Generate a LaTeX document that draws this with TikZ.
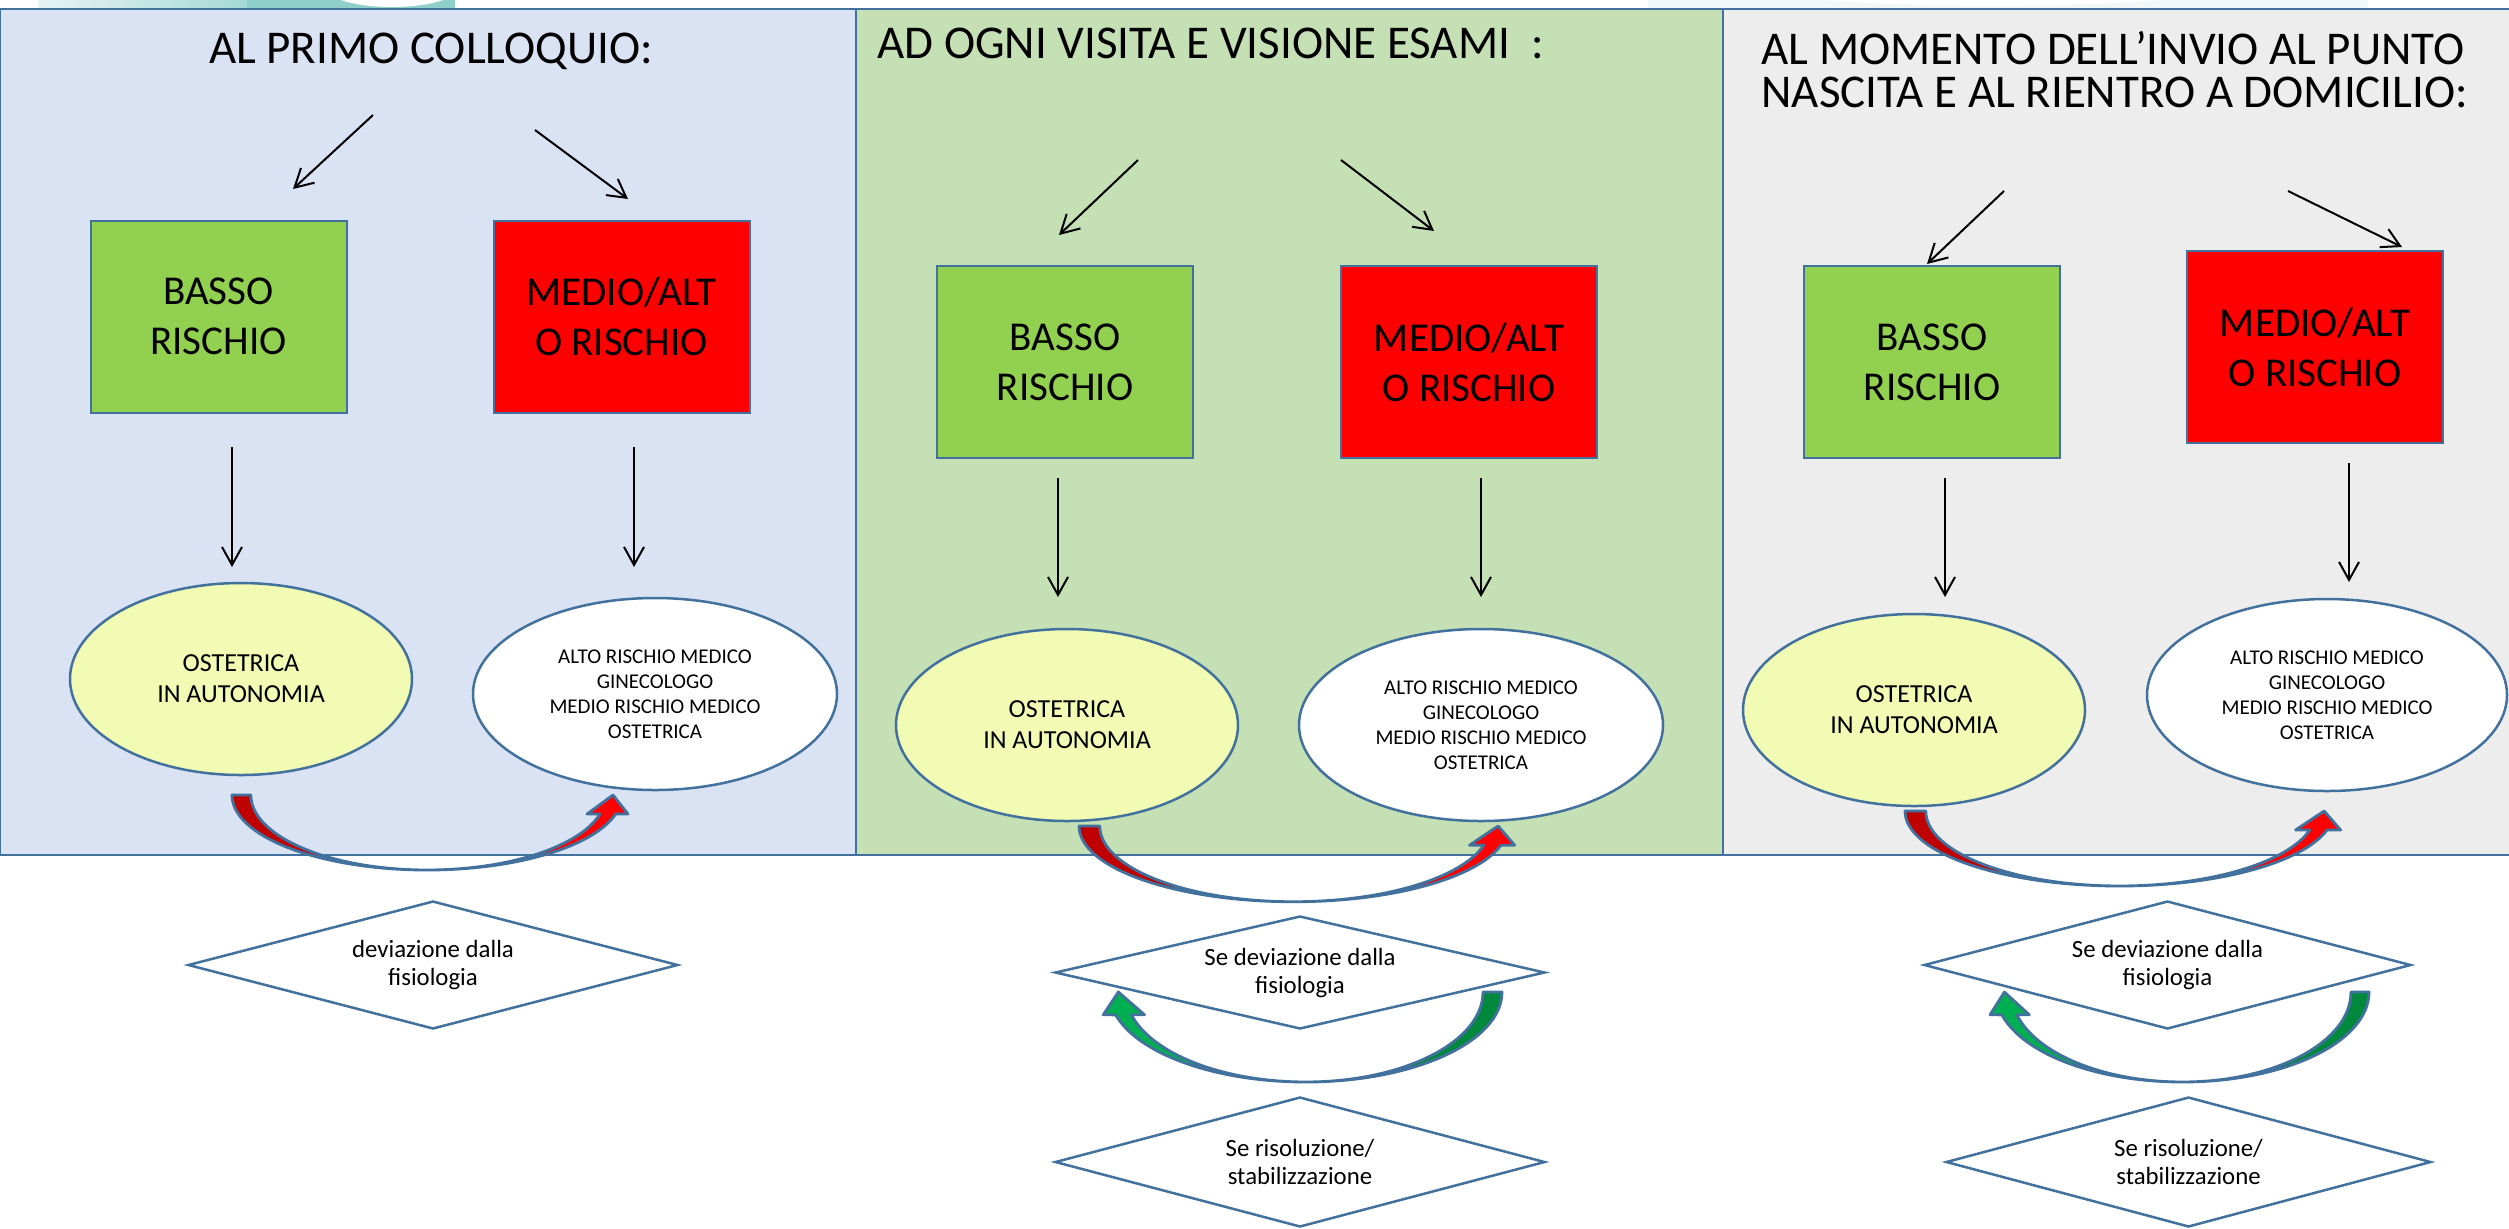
\documentclass[tikz,border=0pt]{standalone}
\usepackage{fontspec}
\setmainfont{Carlito}
\usetikzlibrary{shapes.geometric,arrows.meta}
\definecolor{bord}{HTML}{41719C}
\definecolor{pblue}{HTML}{DAE3F3}
\definecolor{pgreen}{HTML}{C5E0B4}
\definecolor{pgray}{HTML}{EDEDED}
\definecolor{boxgreen}{HTML}{92D050}
\definecolor{boxred}{HTML}{FF0000}
\definecolor{ellyellow}{HTML}{F2FBB4}
\definecolor{redtail}{HTML}{C00000}
\definecolor{redhead}{HTML}{FF0000}
\definecolor{greentail}{HTML}{00893C}
\definecolor{greenhead}{HTML}{00B050}
\definecolor{tealdeco}{HTML}{8FD0CB}
\definecolor{teallight}{HTML}{E6F4F3}
\definecolor{faintdeco}{HTML}{F2F8F8}

\newcommand{\cupath}{(0,0) arc[start angle=180,end angle=14.7,x radius=195,y radius=75] -- (396,19) -- (381,0) -- (355,19) -- (368,19) arc[start angle=14.7,end angle=90,x radius=179,y radius=75] arc[start angle=90,end angle=180,x radius=176,y radius=75] -- cycle}

\newcommand{\cuarrow}[6]{%
\begin{scope}[shift={(#1,#2)},xscale=#3,yscale=#4]
\fill[#6] \cupath;
\begin{scope}
\clip (-30,-20) rectangle (195,120);
\fill[#5] \cupath;
\end{scope}
\draw[bord,line width=1.4pt,line join=round] \cupath;
\end{scope}}

\tikzset{
 ttl/.style={font=\fontsize{23.5}{21.5}\selectfont, inner sep=0pt},
 riskbox/.style={draw=bord, line width=1pt, minimum width=128pt, minimum height=96pt, align=center, font=\fontsize{20.5}{25}\selectfont, inner sep=0pt},
 lowbox/.style={riskbox, fill=boxgreen},
 highbox/.style={riskbox, fill=boxred},
 ellL/.style={ellipse, draw=bord, line width=1.25pt, fill=ellyellow, minimum width=171pt, minimum height=96pt, inner sep=0pt, align=center, font=\fontsize{13}{15.5}\selectfont},
 ellR/.style={ellipse, draw=bord, line width=1.25pt, fill=white, minimum width=182pt, minimum height=96pt, inner sep=0pt, align=center, font=\fontsize{10.5}{12.5}\selectfont},
 dia/.style={diamond, aspect=3.8, draw=bord, line width=1.25pt, fill=white, inner sep=0pt, align=center, font=\fontsize{12.4}{14}\selectfont},
 arr/.style={draw=black, line width=1pt, -{Straight Barb[length=9pt,width=10pt]}},
 panel/.style={draw=bord, line width=1.3pt}
}

\begin{document}
\begin{tikzpicture}[x=0.5pt,y=-0.5pt]
\useasboundingbox (0,0) rectangle (2509,1228);
\fill[white] (0,0) rectangle (2509,1228);

% top decoration
\shade[left color=teallight, right color=tealdeco!80] (38,0) rectangle (247,9);
\fill[tealdeco] (247,0) rectangle (455,9);
\fill[white] (392,-10) ellipse[x radius=63, y radius=17];
\fill[faintdeco] (1648,0) rectangle (2368,9);
\fill[white] (1992,-14) ellipse[x radius=232, y radius=20];

% panels
\filldraw[panel, fill=pblue] (0,9) rectangle (856,855);
\filldraw[panel, fill=pgreen] (856,9) rectangle (1723,855);
\filldraw[panel, fill=pgray] (1723,9) rectangle (2520,855);

% titles
\node[ttl, anchor=base] (t1) at (431,63) {AL PRIMO COLLOQUIO:};
\node[ttl, anchor=base west] (t2) at (877,58) {AD OGNI VISITA E VISIONE ESAMI \ :};
\node[ttl, anchor=west, align=left] (t3) at (1761,69.5) {AL MOMENTO DELL’INVIO AL PUNTO\\NASCITA E AL RIENTRO A DOMICILIO:};

% boxes
\node[lowbox] (b1) at (218.5,316.5) {BASSO\\RISCHIO};
\node[highbox] (r1) at (621.5,316.5) {MEDIO/ALT\\O RISCHIO};
\node[lowbox] (b2) at (1065,362) {BASSO\\RISCHIO};
\node[highbox] (r2) at (1469,362) {MEDIO/ALT\\O RISCHIO};
\node[lowbox] (b3) at (1932,362) {BASSO\\RISCHIO};
\node[highbox] (r3) at (2315,347) {MEDIO/ALT\\O RISCHIO};

% ellipses
\node[ellL] (e1l) at (241,679) {OSTETRICA\\IN AUTONOMIA};
\node[ellR] (e1r) at (655,694) {ALTO RISCHIO MEDICO\\GINECOLOGO\\MEDIO RISCHIO MEDICO\\OSTETRICA};
\node[ellL] (e2l) at (1067,725) {OSTETRICA\\IN AUTONOMIA};
\node[ellR] (e2r) at (1481,725) {ALTO RISCHIO MEDICO\\GINECOLOGO\\MEDIO RISCHIO MEDICO\\OSTETRICA};
\node[ellL] (e3l) at (1914,710) {OSTETRICA\\IN AUTONOMIA};
\node[ellR, minimum width=180pt] (e3r) at (2327,695) {ALTO RISCHIO MEDICO\\GINECOLOGO\\MEDIO RISCHIO MEDICO\\OSTETRICA};

% diagonal arrows
\coordinate (d1a) at (373,115); \coordinate (d1b) at (293,189);
\coordinate (d1c) at (535,130); \coordinate (d1d) at (628,199);
\coordinate (d2a) at (1138,160); \coordinate (d2b) at (1059,235);
\coordinate (d2c) at (1341,160); \coordinate (d2d) at (1434,231);
\coordinate (d3a) at (2004,191); \coordinate (d3b) at (1927,264);
\coordinate (d3c) at (2288,191); \coordinate (d3d) at (2402,247);
\draw[arr] (d1a) -- (d1b);
\draw[arr] (d1c) -- (d1d);
\draw[arr] (d2a) -- (d2b);
\draw[arr] (d2c) -- (d2d);
\draw[arr] (d3a) -- (d3b);
\draw[arr] (d3c) -- (d3d);

% vertical arrows
\coordinate (v1a) at (232,447); \coordinate (v1b) at (232,567);
\coordinate (v1c) at (634,447); \coordinate (v1d) at (634,567);
\coordinate (v2a) at (1058,478); \coordinate (v2b) at (1058,597);
\coordinate (v2c) at (1481,478); \coordinate (v2d) at (1481,597);
\coordinate (v3a) at (1945,478); \coordinate (v3b) at (1945,597);
\coordinate (v3c) at (2349,463); \coordinate (v3d) at (2349,582);
\draw[arr] (v1a) -- (v1b);
\draw[arr] (v1c) -- (v1d);
\draw[arr] (v2a) -- (v2b);
\draw[arr] (v2c) -- (v2d);
\draw[arr] (v3a) -- (v3b);
\draw[arr] (v3c) -- (v3d);

% red curved arrows
\cuarrow{232}{795}{1}{1}{redtail}{redhead}
\cuarrow{1079}{826}{1.10}{1.01}{redtail}{redhead}
\cuarrow{1905}{811}{1.10}{1}{redtail}{redhead}

% diamonds
\node[dia, minimum width=245pt, minimum height=64pt] (q1) at (433,965) {deviazione dalla\\fisiologia};
\node[dia, minimum width=245pt, minimum height=56.5pt] (q2a) at (1300,972.5) {Se deviazione dalla\\fisiologia};
\node[dia, minimum width=245pt, minimum height=65pt] (q2b) at (1300,1162) {Se risoluzione/\\stabilizzazione};
\node[dia, minimum width=243.5pt, minimum height=64pt] (q3a) at (2167.5,965) {Se deviazione dalla\\fisiologia};
\node[dia, minimum width=242.5pt, minimum height=65pt] (q3b) at (2188.5,1162) {Se risoluzione/\\stabilizzazione};

% green curved arrows
\cuarrow{1502}{992}{-1.007}{1.2}{greentail}{greenhead}
\cuarrow{2369}{992}{-0.957}{1.2}{greentail}{greenhead}
\end{tikzpicture}
\end{document}
